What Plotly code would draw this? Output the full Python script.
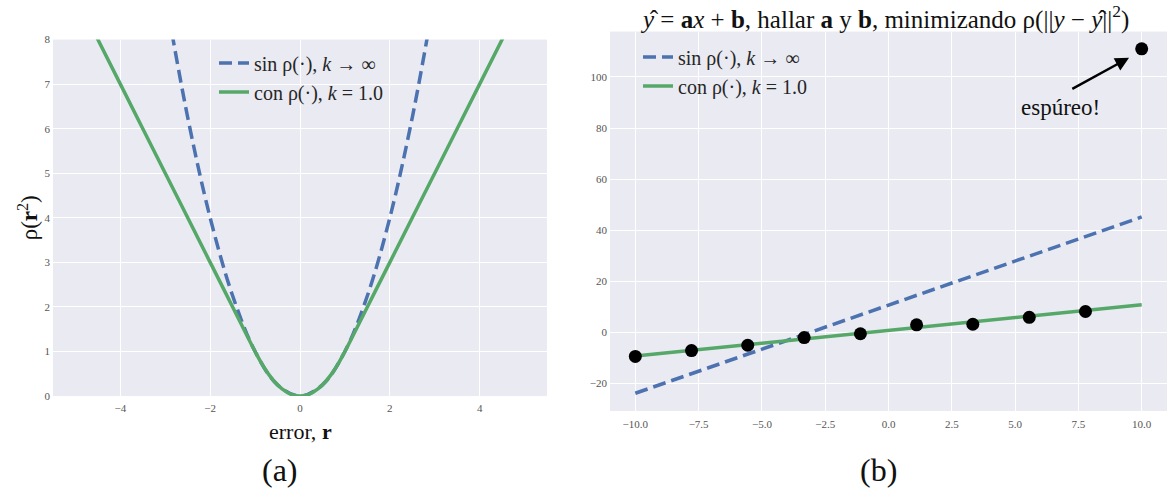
import plotly.graph_objects as go

# ---------- data ----------
# panel (a): loss curves
r_sq = [-3.0, -2.5, -2.0, -1.5, -1.0, -0.5, 0.0, 0.5, 1.0, 1.5, 2.0, 2.5, 3.0]
rho_sq = [9.0, 6.25, 4.0, 2.25, 1.0, 0.25, 0.0, 0.25, 1.0, 2.25, 4.0, 6.25, 9.0]

r_hub = [-5.0, -4.0, -3.0, -2.0, -1.5, -1.0, -0.8, -0.6, -0.4, -0.2, 0.0,
         0.2, 0.4, 0.6, 0.8, 1.0, 1.5, 2.0, 3.0, 4.0, 5.0]
rho_hub = [9.0, 7.0, 5.0, 3.0, 2.0, 1.0, 0.64, 0.36, 0.16, 0.04, 0.0,
           0.04, 0.16, 0.36, 0.64, 1.0, 2.0, 3.0, 5.0, 7.0, 9.0]

# panel (b): points and fitted lines
x_pts = [-10.0, -7.78, -5.56, -3.33, -1.11, 1.11, 3.33, 5.56, 7.78, 10.0]
y_pts = [-9.4, -7.1, -5.0, -2.0, -0.5, 3.0, 3.2, 5.9, 8.2, 111.0]

x_fit = [-10.0, 10.0]
y_ls = [-23.8, 45.2]
y_rob = [-9.2, 10.8]

label_ls = "sin ρ(·), <i>k</i> → ∞"
label_rob = "con ρ(·), <i>k</i> = 1.0"

BLUE = "#4C72B0"
GREEN = "#55A868"
BG = "#EAEAF2"
SERIF = "Liberation Serif, DejaVu Serif, serif"
W, H = 1167, 492
DASH = "13px,6px"

fig = go.Figure()

fig.add_trace(go.Scatter(x=r_sq, y=rho_sq, mode="lines", name=label_ls,
                         line=dict(color=BLUE, width=3.5, dash=DASH, shape="spline"),
                         xaxis="x", yaxis="y", legend="legend", legendgroup="a1"))
fig.add_trace(go.Scatter(x=r_hub, y=rho_hub, mode="lines", name=label_rob,
                         line=dict(color=GREEN, width=3.5, shape="spline"),
                         xaxis="x", yaxis="y", legend="legend", legendgroup="a2"))

fig.add_trace(go.Scatter(x=x_fit, y=y_ls, mode="lines", name=label_ls,
                         line=dict(color=BLUE, width=3.5, dash=DASH),
                         xaxis="x2", yaxis="y2", legend="legend2", legendgroup="b1"))
fig.add_trace(go.Scatter(x=x_fit, y=y_rob, mode="lines", name=label_rob,
                         line=dict(color=GREEN, width=3.5),
                         xaxis="x2", yaxis="y2", legend="legend2", legendgroup="b2"))
fig.add_trace(go.Scatter(x=x_pts, y=y_pts, mode="markers", showlegend=False,
                         marker=dict(color="black", size=13),
                         xaxis="x2", yaxis="y2", cliponaxis=False))

# vertical compensation for the capture
KY, CY = 0.977, 5.4


def px_x(p):
    return p / W


def px_y(p):
    ps = (p - CY) / KY
    return 1 - ps / H


axis_common = dict(showgrid=True, gridcolor="white", gridwidth=1.2, zeroline=False,
                   showline=False, ticks="", tickfont=dict(family=SERIF, size=11, color="#555"))

fig.update_layout(
    width=W, height=H,
    margin=dict(l=0, r=0, t=0, b=0),
    paper_bgcolor="white",
    plot_bgcolor=BG,
    xaxis=dict(domain=[px_x(53), px_x(547)], range=[-5.5, 5.5], tickvals=[-4, -2, 0, 2, 4],
               anchor="y", ticklabelstandoff=4, **axis_common),
    yaxis=dict(domain=[px_y(396), px_y(39)], range=[0, 8], dtick=1, anchor="x",
               ticklabelstandoff=2, **axis_common),
    xaxis2=dict(domain=[px_x(610), 1.0], range=[-11, 11], dtick=2.5, tick0=0, tickformat=".1f",
                anchor="y2", ticklabelstandoff=5, **axis_common),
    yaxis2=dict(domain=[px_y(411), px_y(31)], range=[-30.75, 117.75], dtick=20, anchor="x2",
                ticklabelstandoff=2, **axis_common),
    legend=dict(x=px_x(214), y=px_y(43), xanchor="left", yanchor="top",
                bgcolor="rgba(0,0,0,0)", font=dict(family=SERIF, size=20, color="#262626"),
                tracegroupgap=0),
    legend2=dict(x=px_x(638), y=px_y(37), xanchor="left", yanchor="top",
                 bgcolor="rgba(0,0,0,0)", font=dict(family=SERIF, size=20, color="#262626"),
                 tracegroupgap=0),
    showlegend=True,
)

annos = [
    dict(text="<i>y</i>\u0302 = <b>a</b><i>x</i> + <b>b</b>, hallar <b>a</b> y <b>b</b>, minimizando ρ(||<i>y</i> − <i>y</i>\u0302||<sup>2</sup>)",
         x=px_x(884), y=px_y(17), xref="paper", yref="paper", showarrow=False,
         font=dict(family=SERIF, size=25, color="#111"), xanchor="center", yanchor="middle"),
    dict(text="ρ(<b>r</b><sup>2</sup>)", x=px_x(28), y=px_y(218), xref="paper", yref="paper",
         showarrow=False, textangle=-90, font=dict(family=SERIF, size=23, color="#111"),
         xanchor="center", yanchor="middle"),
    dict(text="error, <b>r</b>", x=px_x(300), y=px_y(432), xref="paper", yref="paper",
         showarrow=False, font=dict(family=SERIF, size=22, color="#111"),
         xanchor="center", yanchor="middle"),
    dict(text="(a)", x=px_x(280), y=px_y(470), xref="paper", yref="paper", showarrow=False,
         font=dict(family=SERIF, size=32, color="#111"), xanchor="center", yanchor="middle"),
    dict(text="(b)", x=px_x(878), y=px_y(470), xref="paper", yref="paper", showarrow=False,
         font=dict(family=SERIF, size=32, color="#111"), xanchor="center", yanchor="middle"),
    dict(text="espúreo!", x=6.8, y=88.0, xref="x2", yref="y2", showarrow=False,
         font=dict(family=SERIF, size=23, color="#111"), xanchor="center", yanchor="middle"),
    dict(text="", x=9.5, y=107.5, xref="x2", yref="y2", ax=7.2, ay=95.0, axref="x2", ayref="y2",
         showarrow=True, arrowhead=2, arrowsize=1.1, arrowwidth=2.5, arrowcolor="black"),
]
fig.update_layout(annotations=annos)

fig.write_html("out.html")
